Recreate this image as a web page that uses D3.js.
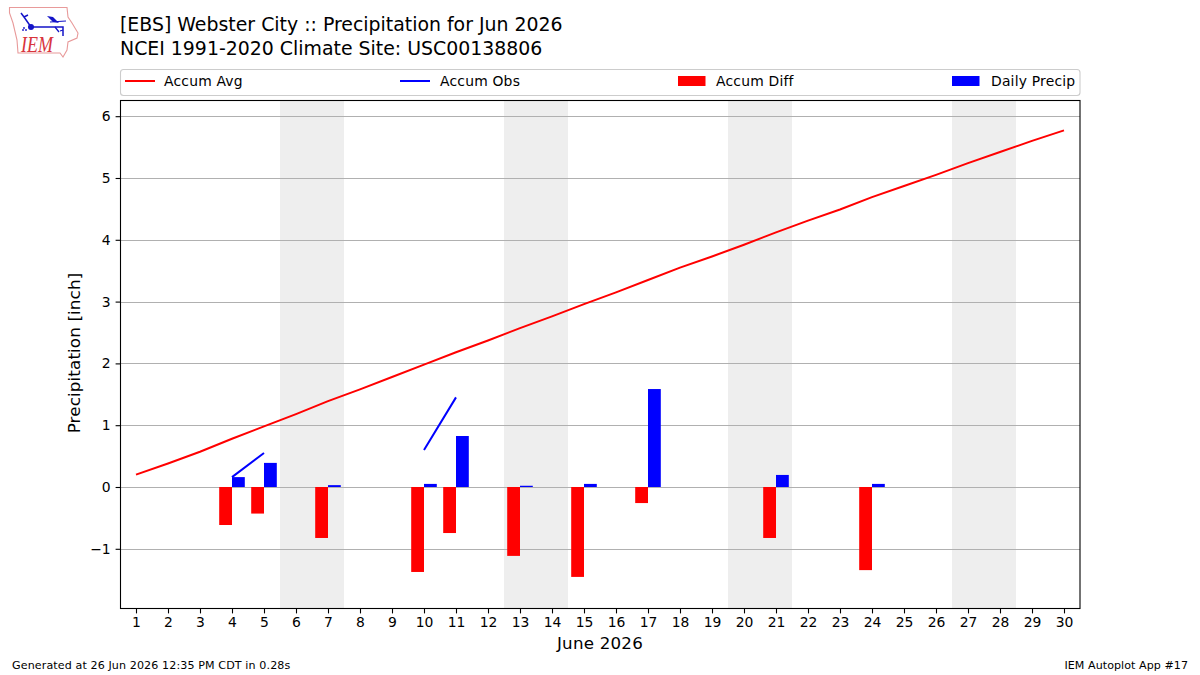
<!DOCTYPE html>
<html>
<head>
<meta charset="utf-8">
<script src="https://cdn.jsdelivr.net/npm/d3@7"></script>
<style>
html,body{margin:0;padding:0;background:#fff}
svg{display:block}
text{font-family:"DejaVu Sans",sans-serif;fill:#000}
</style>
</head>
<body>
<svg id="chart" width="1200" height="675"></svg>
<script>
// Monthly precipitation summary for a single climate site.
const days = d3.range(1, 31);
const weekendSpans = [[5.5, 7.5], [12.5, 14.5], [19.5, 21.5], [26.5, 28.5]];
const accumAvg = [0.20,0.38,0.57,0.78,0.98,1.18,1.39,1.58,1.78,1.98,2.18,2.37,2.57,2.76,2.96,3.15,3.35,3.55,3.73,3.92,4.12,4.31,4.49,4.69,4.87,5.05,5.24,5.42,5.60,5.77];
const accumObs = [null,null,null,0.16,0.55,null,null,null,null,0.60,1.45,null,null,null,null,null,null,null,null,null,null,null,null,null,null,null,null,null,null,null];
const diffDays = [4,5,7,10,11,13,15,17,21,24];
const accumDiff = [-0.615,-0.43,-0.825,-1.375,-0.745,-1.115,-1.455,-0.26,-0.825,-1.345];
const dailyPrecip = [0.16,0.39,0.03,0.05,0.825,0.02,0.05,1.585,0.195,0.05];
const yTicks = [-1,0,1,2,3,4,5,6];
const titleLines = ["[EBS] Webster City :: Precipitation for Jun 2026","NCEI 1991-2020 Climate Site: USC00138806"];
const legendItems = [
  {label:"Accum Avg", color:"#ff0000", kind:"line", x:125, tx:164},
  {label:"Accum Obs", color:"#0000ff", kind:"line", x:400, tx:440},
  {label:"Accum Diff", color:"#ff0000", kind:"bar", x:678, tx:716},
  {label:"Daily Precip", color:"#0000ff", kind:"bar", x:952, tx:991}
];

const svg = d3.select("#chart");
const box = {left:120, right:1080, top:100, bottom:608};
const x = d3.scaleLinear().domain([0.5, 30.5]).range([box.left, box.right]);
const y = d3.scaleLinear().domain([-1.958, 6.262]).range([box.bottom, box.top]);
const barW = x(0.4) - x(0);

// Titles
svg.selectAll("text.title").data(titleLines).join("text")
  .attr("class","title").attr("x",120).attr("y",(d,i)=>31+i*24)
  .style("font-size","18.9px").text(d=>d);

// Weekend shading
svg.append("g").selectAll("rect").data(weekendSpans).join("rect")
  .attr("x",d=>x(d[0])).attr("width",d=>x(d[1])-x(d[0]))
  .attr("y",box.top).attr("height",box.bottom-box.top).attr("fill","#eeeeee");

// Horizontal grid
svg.append("g").selectAll("line").data(yTicks).join("line")
  .attr("x1",box.left).attr("x2",box.right)
  .attr("y1",d=>Math.round(y(d))+0.5).attr("y2",d=>Math.round(y(d))+0.5)
  .attr("stroke","#b0b0b0").attr("stroke-width",1.1);

// Bars: departure to the left of the day, daily total to the right
svg.append("g").selectAll("rect").data(diffDays).join("rect")
  .attr("x",d=>x(d)-barW).attr("width",barW)
  .attr("y",y(0)).attr("height",(d,i)=>y(accumDiff[i])-y(0)).attr("fill","#ff0000");
svg.append("g").selectAll("rect").data(diffDays).join("rect")
  .attr("x",d=>x(d)).attr("width",barW)
  .attr("y",(d,i)=>y(dailyPrecip[i])).attr("height",(d,i)=>y(0)-y(dailyPrecip[i])).attr("fill","#0000ff");

// Accumulation lines
const lineOf = d3.line().x((d,i)=>x(days[i])).y(d=>y(d)).defined(d=>d!==null);
svg.append("path").attr("d",lineOf(accumAvg)).attr("fill","none").attr("stroke","#ff0000").attr("stroke-width",2);
svg.append("path").attr("d",lineOf(accumObs)).attr("fill","none").attr("stroke","#0000ff").attr("stroke-width",2);

// Frame
svg.append("rect").attr("x",box.left+0.5).attr("y",box.top+0.5).attr("width",box.right-box.left-0.5)
  .attr("height",box.bottom-box.top).attr("fill","none").attr("stroke","#000").attr("stroke-width",1.1);

// Axes
const xAxis = svg.append("g").attr("transform",`translate(0,${box.bottom+0.5})`)
  .call(d3.axisBottom(x).tickValues(days).tickFormat(d3.format("d")).tickSize(4.9).tickPadding(3.5));
const yAxis = svg.append("g").attr("transform",`translate(${box.left+0.5},0)`)
  .call(d3.axisLeft(y).tickValues(yTicks).tickFormat(d=>d<0?"\u2212"+Math.abs(d):d).tickSize(4.9).tickPadding(4.9));
[xAxis,yAxis].forEach(a=>{
  a.select(".domain").remove();
  a.selectAll("line").attr("stroke","#000").attr("stroke-width",1.1);
  a.selectAll("text").style("font-family",'"DejaVu Sans",sans-serif').style("font-size","13.9px").attr("fill","#000");
});

svg.append("text").attr("x",600).attr("y",649).attr("text-anchor","middle")
  .style("font-size","16.7px").style("letter-spacing","0.22px").text("June 2026");
svg.append("text").attr("transform","translate(80,353) rotate(-90)").attr("text-anchor","middle")
  .style("font-size","16.7px").style("letter-spacing","0.15px").text("Precipitation [inch]");

// Legend
svg.append("rect").attr("x",120.5).attr("y",69.5).attr("width",959.5).attr("height",26).attr("rx",3)
  .attr("fill","#fff").attr("stroke","#cccccc").attr("stroke-width",1.1);
legendItems.forEach(d=>{
  if(d.kind==="line"){
    svg.append("line").attr("x1",d.x).attr("x2",d.x+30).attr("y1",81).attr("y2",81).attr("stroke",d.color).attr("stroke-width",2);
  } else {
    svg.append("rect").attr("x",d.x).attr("y",76).attr("width",27.5).attr("height",10).attr("fill",d.color);
  }
  svg.append("text").attr("x",d.tx).attr("y",86).style("font-size","13.9px").style("letter-spacing","0.2px").text(d.label);
});

// Footer
svg.append("text").attr("x",12).attr("y",669).style("font-size","11.1px").style("letter-spacing","0.11px").text("Generated at 26 Jun 2026 12:35 PM CDT in 0.28s");
svg.append("text").attr("x",1188).attr("y",669).attr("text-anchor","end").style("font-size","11.1px").style("letter-spacing","0.05px").text("IEM Autoplot App #17");

// Station emblem
const logo = svg.append("g");
logo.append("path").attr("d","M9.5 7.5 L67 7.5 L68 17 L72 23 L78 33 L77 38 L68 42 L67 50 L63 57 L60 53 L18 53 L17 40 L13 23 L9.5 13 Z")
  .attr("fill","#fff").attr("stroke","#e89a9a").attr("stroke-width",1.1);
logo.append("path").attr("d","M21 13 L24 17 L28 15 M24 17 L31 27 L63 27 L63 36")
  .attr("fill","none").attr("stroke","#1414c8").attr("stroke-width",1.5);
logo.append("path").attr("d","M55 27 L59 32 M60 31 L63 30").attr("fill","none").attr("stroke","#1414c8").attr("stroke-width",1.3);
logo.append("circle").attr("cx",31).attr("cy",27).attr("r",3).attr("fill","#1414c8");
logo.append("path").attr("d","M47 16 L53 17 L59 23 L53 22 Z").attr("fill","#1414c8");
logo.append("path").attr("d","M50 22 L66 21").attr("fill","none").attr("stroke","#1414c8").attr("stroke-width",1.2);
logo.selectAll("circle.dot").data([[24,28],[23,30],[26,30]]).join("circle")
  .attr("class","dot").attr("cx",d=>d[0]).attr("cy",d=>d[1]).attr("r",0.9).attr("fill","#1414c8");
logo.append("text").attr("transform","translate(21,52) scale(1,1.25)")
  .style("font-family",'"Liberation Serif",serif').style("font-style","italic").style("font-size","18px").style("fill","#d8343c").text("IEM");
</script>
</body>
</html>
